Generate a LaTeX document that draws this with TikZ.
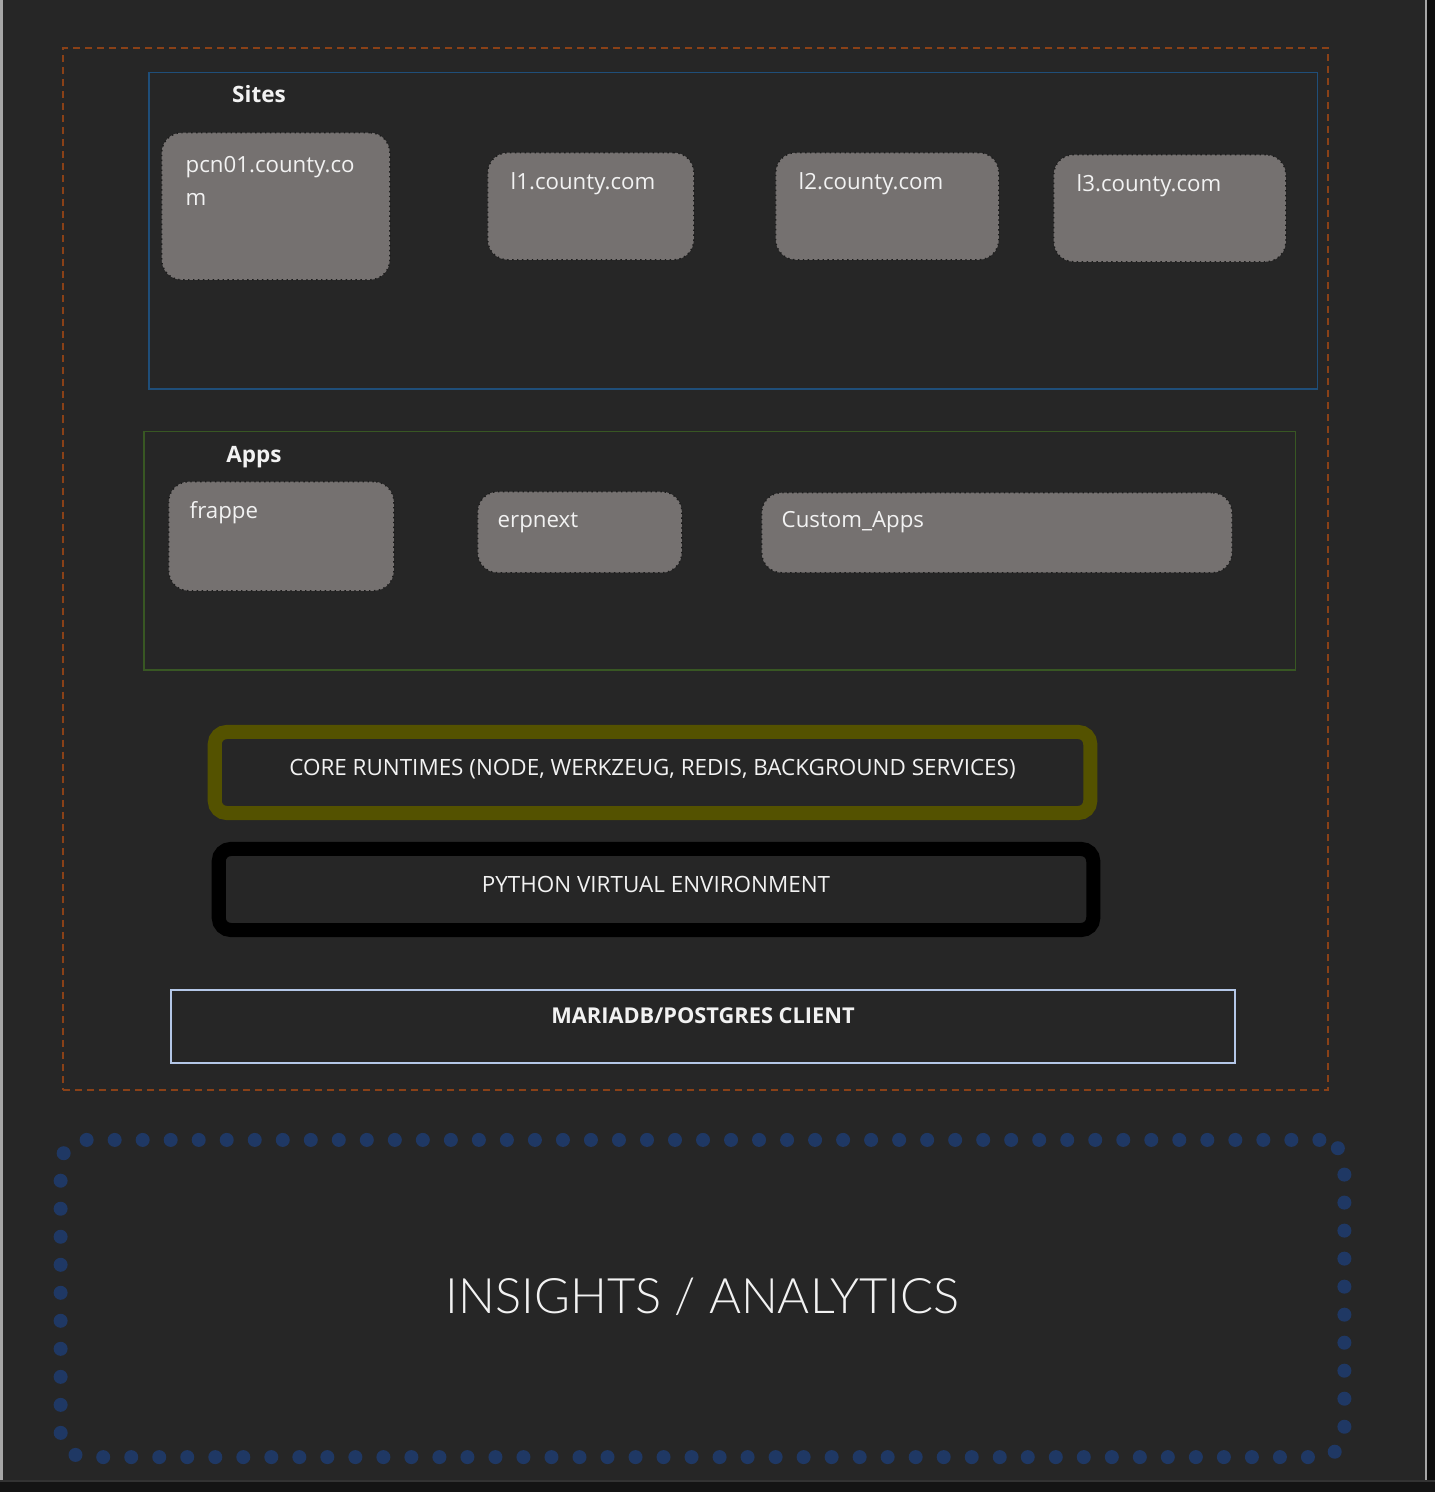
\documentclass[tikz,border=0pt]{standalone}
\usepackage{fontspec}
\setmainfont{Open Sans}
\newfontfamily\lightfont{Lato Light}
\usetikzlibrary{positioning}

\definecolor{fondo}{HTML}{262626}
\definecolor{naranja}{HTML}{8A4117}
\definecolor{azulsitios}{HTML}{1F4E79}
\definecolor{verdeapps}{HTML}{385723}
\definecolor{caja}{HTML}{757170}
\definecolor{bordecaja}{HTML}{1C1C1C}
\definecolor{oliva}{HTML}{545200}
\definecolor{lavanda}{HTML}{B4C7E7}
\definecolor{azulpuntos}{HTML}{1F3864}
\definecolor{textoclaro}{HTML}{F2F2F2}

\begin{document}
\begin{tikzpicture}[x=0.01cm, y=-0.01cm]
		% Estilos de los bloques
		\tikzset{
			group/.style={
					rectangle, draw, line width=0.015cm,
					anchor=north west, inner sep=0pt
				},
			title text/.style={
					font=\bfseries\fontsize{6.4}{7.5}\selectfont, text=textoclaro
				},
			item box/.style={
					rectangle, rounded corners=0.2cm, fill=caja,
					draw=bordecaja, densely dotted, line width=0.4pt,
					anchor=north west, inner sep=0pt
				},
			item text/.style={
					font=\fontsize{6.33}{9.4}\selectfont, text=textoclaro,
					anchor=north west, align=left, inner sep=0pt
				},
			band/.style={
					rectangle, rounded corners=0.12cm, line width=0.14cm,
					font=\fontsize{6.38}{7.5}\selectfont, text=textoclaro,
					text depth=0.1cm
				}
		}

		% Fondo de la captura
		\useasboundingbox (0,0) rectangle (1435,1492);
		\fill[fondo] (0,0) rectangle (1435,1492);
		\fill[black!95] (1427,0) rectangle (1435,1480);
		\fill[black!92] (0,1481) rectangle (1435,1492);
		\draw[gray!70, line width=0.02cm] (1.5,0) -- (1.5,1480);
		\draw[gray!70, line width=0.02cm] (1426,0) -- (1426,1480);
		\draw[gray!40!black, line width=0.02cm] (0,1480.5) -- (1435,1480.5);

		% Contorno del bench
		\node[group, draw=naranja, line width=0.02cm, dash pattern=on 0.07cm off 0.05cm,
			minimum width=12.64cm, minimum height=10.41cm] (bench) at (62,47) {};

		% Sitios
		\node[group, draw=azulsitios, minimum width=11.68cm, minimum height=3.16cm] (sites) at (148,72) {};
		\node[title text] (sites title) at (259,94) {Sites};
		\node[item box, minimum width=2.28cm, minimum height=1.47cm,
			label={[item text, xshift=0.24cm, yshift=-0.24cm]north west:pcn01.county.co\\m}] (pcn01) at (161,132) {};
		\node[item box, minimum width=2.06cm, minimum height=1.07cm,
			label={[item text, xshift=0.23cm, yshift=-0.2cm]north west:l1.county.com}] (l1) at (487,152) {};
		\node[item box, minimum width=2.23cm, minimum height=1.07cm,
			label={[item text, xshift=0.23cm, yshift=-0.2cm]north west:l2.county.com}] (l2) at (775,152) {};
		\node[item box, minimum width=2.32cm, minimum height=1.07cm,
			label={[item text, xshift=0.23cm, yshift=-0.2cm]north west:l3.county.com}] (l3) at (1053,154) {};

		% Aplicaciones
		\node[group, draw=verdeapps, minimum width=11.51cm, minimum height=2.38cm] (apps) at (143,431) {};
		\node[title text] (apps title) at (254,457) {Apps};
		\node[item box, minimum width=2.25cm, minimum height=1.09cm,
			label={[item text, xshift=0.21cm, yshift=-0.2cm]north west:frappe}] (frappe) at (168,481) {};
		\node[item box, minimum width=2.04cm, minimum height=0.81cm,
			label={[item text, xshift=0.2cm, yshift=-0.21cm]north west:erpnext}] (erpnext) at (477,491) {};
		\node[item box, minimum width=4.7cm, minimum height=0.8cm,
			label={[item text, xshift=0.2cm, yshift=-0.19cm]north west:Custom\_Apps}] (custom) at (761,492) {};

		% Capas inferiores
		\node[band, draw=oliva, minimum width=8.75cm, minimum height=0.81cm] (core) at (652.5,772.5)
			{CORE RUNTIMES (NODE, WERKZEUG, REDIS, BACKGROUND SERVICES)};
		\node[band, draw=black, minimum width=8.74cm, minimum height=0.81cm] (venv) at (656,889.5)
			{PYTHON VIRTUAL ENVIRONMENT};
		\node[rectangle, draw=lavanda, line width=0.02cm, minimum width=10.64cm, minimum height=0.73cm,
			font=\bfseries\fontsize{6.2}{7.5}\selectfont, text=textoclaro, text depth=0.21cm] (db) at (703,1026.5)
			{MARIADB/POSTGRES CLIENT};

		% Insights
		\node[rectangle, draw=azulpuntos, line width=0.14cm, line cap=round,
			dash pattern=on 0pt off 0.28cm, rounded corners=0.25cm,
			minimum width=12.83cm, minimum height=3.17cm, text depth=0.06cm,
			font=\lightfont\fontsize{13.9}{16}\selectfont, text=textoclaro] (insights) at (702.5,1298.5)
			{INSIGHTS / ANALYTICS};
	\end{tikzpicture}
\end{document}
